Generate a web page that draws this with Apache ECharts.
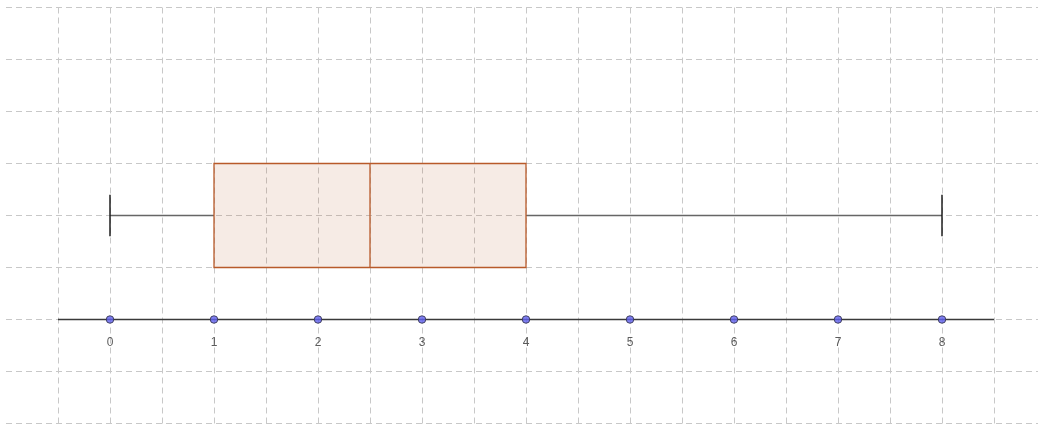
<!DOCTYPE html>
<html lang="en">
<head>
    <meta charset="UTF-8">
    <title>Box plot</title>
    <style>
        html, body { margin: 0; padding: 0; background: #fff; }
    </style>
</head>
<body>
    <div id="main" style="width:1038px;height:425px;"></div>

    <script src="https://cdn.jsdelivr.net/npm/echarts@6/dist/echarts.min.js"></script>
    <script>
// five-number summary of the box plot
var boxStats = [0, 1, 2.5, 4, 8]; // min, q1, median, q3, max
var boxCenterY = 1;
var boxHalfHeight = 0.5;
var capHalfHeight = 0.2;

// number line
var tickValues = [0, 1, 2, 3, 4, 5, 6, 7, 8];
var tickLabels = ['0', '1', '2', '3', '4', '5', '6', '7', '8'];
var lineRange = [-0.5, 8.5];

var chart = echarts.init(document.getElementById('main'));

var dashed = { color: '#c8c8c8', type: [6, 4], width: 1 };

var option = {
    animation: false,
    backgroundColor: '#fff',
    grid: { left: 6, right: 0, top: 7.5, bottom: 1.5 },
    xAxis: {
        type: 'value',
        min: -1,
        max: (1038 - 6) / 104 - 1,
        interval: 0.5,
        axisLine: { show: false },
        axisTick: { show: false },
        axisLabel: { show: false },
        splitLine: { show: true, showMinLine: false, showMaxLine: false, lineStyle: dashed }
    },
    yAxis: {
        type: 'value',
        min: -1,
        max: 3,
        interval: 0.5,
        axisLine: { show: false },
        axisTick: { show: false },
        axisLabel: { show: false },
        splitLine: { show: true, lineStyle: dashed }
    },
    series: [
        {
            // the number line
            type: 'line',
            data: lineRange.map(function (v) { return [v, 0]; }),
            symbol: 'none',
            silent: true,
            lineStyle: { color: '#3a3a3a', width: 1.3 },
            z: 3
        },
        {
            // box and whiskers
            type: 'custom',
            silent: true,
            data: [boxStats],
            renderItem: function (params, api) {
                var mn = api.value(0), q1 = api.value(1), md = api.value(2),
                    q3 = api.value(3), mx = api.value(4);
                var c = boxCenterY;
                var pMin = api.coord([mn, c]);
                var pQ1 = api.coord([q1, c]);
                var pQ3 = api.coord([q3, c]);
                var pMax = api.coord([mx, c]);
                var top = api.coord([q1, c + boxHalfHeight])[1];
                var bottom = api.coord([q1, c - boxHalfHeight])[1];
                var capTop = api.coord([mn, c + capHalfHeight])[1];
                var capBottom = api.coord([mn, c - capHalfHeight])[1];
                var xMd = api.coord([md, c])[0];
                var boxColor = '#b85a2a';
                return {
                    type: 'group',
                    children: [
                        {
                            type: 'line',
                            shape: { x1: pMin[0], y1: pMin[1], x2: pQ1[0], y2: pQ1[1] },
                            style: { stroke: '#666', lineWidth: 1.4 }
                        },
                        {
                            type: 'line',
                            shape: { x1: pQ3[0], y1: pQ3[1], x2: pMax[0], y2: pMax[1] },
                            style: { stroke: '#666', lineWidth: 1.4 }
                        },
                        {
                            type: 'line',
                            shape: { x1: pMin[0], y1: capTop, x2: pMin[0], y2: capBottom },
                            style: { stroke: '#111', lineWidth: 1.4 }
                        },
                        {
                            type: 'line',
                            shape: { x1: pMax[0], y1: capTop, x2: pMax[0], y2: capBottom },
                            style: { stroke: '#111', lineWidth: 1.4 }
                        },
                        {
                            type: 'rect',
                            shape: { x: pQ1[0], y: top, width: pQ3[0] - pQ1[0], height: bottom - top },
                            style: { fill: 'rgba(184,90,42,0.12)', stroke: boxColor, lineWidth: 1.3 }
                        },
                        {
                            type: 'line',
                            shape: { x1: xMd, y1: top, x2: xMd, y2: bottom },
                            style: { stroke: boxColor, lineWidth: 1.3 }
                        }
                    ]
                };
            },
            z: 4
        },
        {
            // points on the number line
            type: 'scatter',
            data: tickValues.map(function (v, i) { return { value: [v, 0], name: tickLabels[i] }; }),
            symbol: 'circle',
            symbolSize: 7.5,
            silent: true,
            itemStyle: { color: '#6262f0', borderColor: '#2a2a40', borderWidth: 1 },
            label: {
                show: true,
                position: 'bottom',
                distance: 13,
                formatter: function (p) { return p.name; },
                color: '#333',
                fontSize: 12,
                fontFamily: 'Liberation Sans'
            },
            z: 5
        }
    ]
};

chart.setOption(option);
    </script>
</body>
</html>
